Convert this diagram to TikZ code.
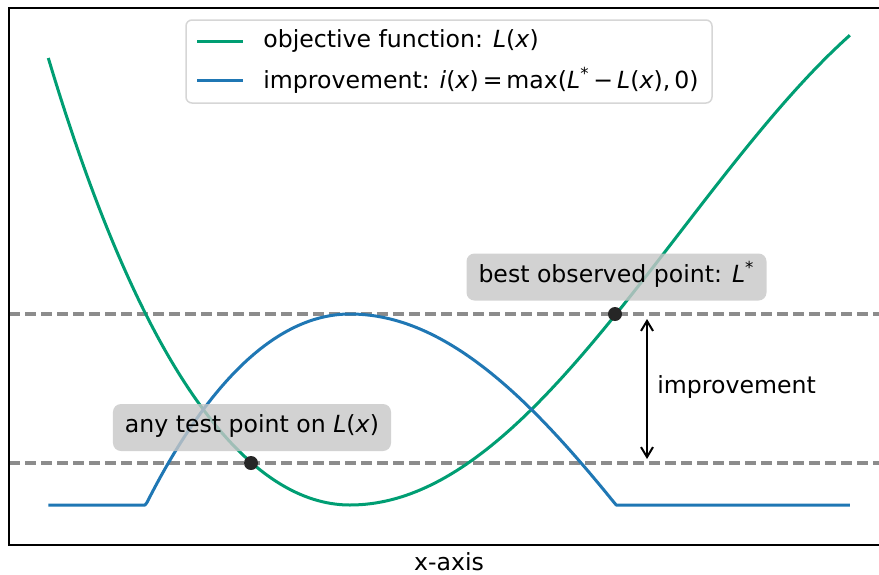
\documentclass[tikz,border=0pt]{standalone}
\usepackage{fontspec}
\setmainfont{DejaVu Sans}
\usepackage{xcolor}
\usetikzlibrary{arrows.meta}

\definecolor{objgreen}{HTML}{009E73}
\definecolor{impblue}{HTML}{1F77B4}
\definecolor{dotgray}{HTML}{262626}
\newcommand{\mv}[1]{\textit{#1}}
\newcommand{\Lstar}{\mv{L}\textsuperscript{*}}

\begin{document}
\begin{tikzpicture}[x=0.5pt, y=-0.5pt,
    font=\fontsize{11.8pt}{14pt}\selectfont,
    declare function={hl(\v)=42.91*\v*\v+0.681*\v*\v*\v*\v; hr(\v)=272.5*(1-cos(deg(\v/2.1)));},
    curve/.style={line width=1.5pt, line join=round},
    refline/.style={draw=black!45, line width=1.6pt, dash pattern=on 5.5pt off 2.5pt},
    dot/.style={circle, fill=dotgray, inner sep=0pt, minimum size=7pt},
    tag/.style={fill=black!22, fill opacity=0.8, text opacity=1, rounded corners=4pt, inner xsep=6pt, inner ysep=6.75pt, text height=0.76em, text depth=0.24em},
    legendbox/.style={draw=black!20, fill=white, opacity=0.8, line width=0.75pt, rounded corners=3pt, minimum width=263pt, minimum height=41.5pt},
    keyline/.style={line width=1.5pt},
    gap/.style={{Straight Barb[length=5pt,width=6pt]}-{Straight Barb[length=5pt,width=6pt]}, line width=1pt}]
    \clip (0,0) rectangle (879,574);

    % Reference Levels
    \coordinate (starW) at (9,314);
    \coordinate (starE) at (889,314);
    \coordinate (testW) at (9,463);
    \coordinate (testE) at (889,463);
    \draw[refline] (starW) -- (starE);
    \draw[refline] (testW) -- (testE);

    % Objective Function
    \draw[curve, objgreen] plot[domain=-3.017:0, samples=80] ({350+100*\x},{505-hl(\x)})
        -- plot[domain=0:5, samples=100] ({350+100*\x},{505-hr(\x)});

    % Improvement
    \draw[curve, impblue] plot[domain=-3.017:0, samples=160] ({350+100*\x},{505-max(191-hl(\x),0)})
        -- plot[domain=0:5, samples=200] ({350+100*\x},{505-max(191-hr(\x),0)});

    % Points
    \node[dot] (best) at (615,314) {};
    \node[dot] (test) at (251,463) {};

    % Labels
    \node[tag] (bestlabel) at (616.5,277) {best observed point: \Lstar};
    \node[tag] (testlabel) at (252,427.5) {any test point on \mv{L}(\mv{x})};

    % Improvement Arrow
    \coordinate (gaptop) at (647,319);
    \coordinate (gapbot) at (647,459);
    \draw[gap] (gaptop) -- (gapbot);
    \node[anchor=base west, inner sep=0pt] (gaplabel) at (657,393) {improvement};

    % Axes
    \coordinate (axsw) at (9,545);
    \coordinate (axne) at (889,8);
    \draw[line width=0.8pt] (axsw) rectangle (axne);
    \node[anchor=base, inner sep=0pt] (xlabel) at (449,570) {x-axis};

    % Legend
    \node[legendbox] (legend) at (449,61.5) {};
    \coordinate (key1a) at (197,41);
    \coordinate (key1b) at (243,41);
    \coordinate (key2a) at (197,80);
    \coordinate (key2b) at (243,80);
    \draw[keyline, objgreen] (key1a) -- (key1b);
    \draw[keyline, impblue] (key2a) -- (key2b);
    \node[anchor=west, inner sep=0pt] (key1text) at (263,41) {objective function: \mv{L}(\mv{x})};
    \node[anchor=west, inner sep=0pt] (key2text) at (263,80) {improvement: \mv{i}(\mv{x})\,=\,max(\Lstar\,−\,\mv{L}(\mv{x}),\,0)};
\end{tikzpicture}
\end{document}
